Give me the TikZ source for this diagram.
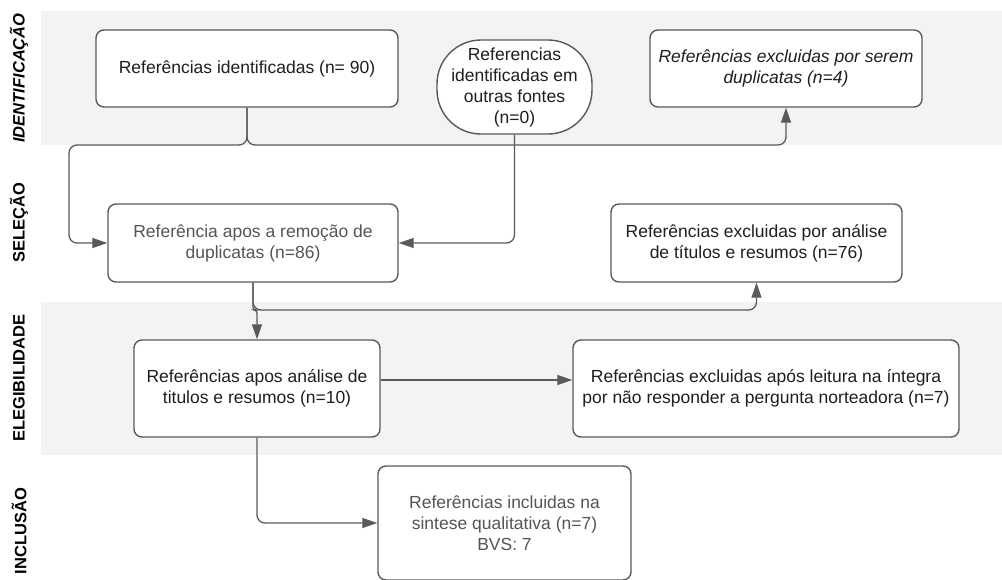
\documentclass[tikz,border=0pt]{standalone}
\usepackage{fontspec}
\setmainfont{Liberation Sans}
\usetikzlibrary{arrows.meta}
\definecolor{band}{HTML}{F2F3F5}
\definecolor{edge}{HTML}{5A5A5A}
\definecolor{textgray}{HTML}{555555}

\begin{document}
\begin{tikzpicture}[x=1pt,y=-1pt,
  box/.style={draw=edge,line width=1.4pt,fill=white,rounded corners=8pt,align=center,inner sep=0pt,font=\fontsize{17.5}{21}\selectfont,text=black!88},
  phase/.style={rotate=90,font=\fontsize{16.5}{20}\selectfont\bfseries},
  flow/.style={draw=edge,line width=1.3pt,rounded corners=8pt,-{Triangle[length=15pt,width=10pt]}}]
\useasboundingbox (0,0) rectangle (1002,579);
\fill[band] (41,11) rectangle (1002,145);
\fill[band] (41,302) rectangle (1002,455);

\node[phase,font=\fontsize{16.5}{20}\selectfont\bfseries\itshape] (p_1) at (19,78) {IDENTIFICAÇÃO};
\node[phase] (p_2) at (19,223) {SELEÇÃO};
\node[phase] (p_3) at (19,378) {ELEGIBILIDADE};
\node[phase] (p_4) at (19,531) {INCLUSÃO};

\node[box,minimum width=302pt,minimum height=77pt] (b_1) at (247,68.5) {Referências identificadas (n= 90)};
\node[box,rounded corners=44pt,minimum width=155pt,minimum height=94pt] (b_2) at (514.5,87) {Referencias\\identificadas em\\outras fontes\\(n=0)};
\node[box,font=\fontsize{17.5}{21}\selectfont\itshape,minimum width=272pt,minimum height=77pt] (b_3) at (786,68.5) {Referências excluidas por serem\\duplicatas (n=4)};
\node[box,text=textgray,minimum width=290pt,minimum height=78pt] (b_4) at (253,243) {Referência apos a remoção de\\duplicatas (n=86)};
\node[box,minimum width=291pt,minimum height=78pt] (b_5) at (756.5,243) {Referências excluidas por análise\\de títulos e resumos (n=76)};
\node[box,minimum width=246pt,minimum height=97pt] (b_6) at (257,388.5) {Referências apos análise de\\titulos e resumos (n=10)};
\node[box,minimum width=386pt,minimum height=97pt] (b_7) at (766,388.5) {Referências excluidas após leitura na íntegra\\por não responder a pergunta norteadora (n=7)};
\node[box,text=textgray,minimum width=253pt,minimum height=114pt] (b_8) at (504.5,523) {Referências incluidas na\\sintese qualitativa (n=7)\\BVS: 7};

\coordinate (k_1) at (69,145);
\coordinate (k_2) at (786,145);
\coordinate (k_3) at (257,310);
\coordinate (k_4) at (756.5,310);

\path[flow] (b_1.south) |- (k_1) |- (b_4.west);
\path[flow] (b_1.south) |- (k_2) -- (b_3.south);
\path[flow] (b_2.south) |- (b_4.east);
\path[flow,rounded corners=3pt] (b_4.south) |- (k_3) -- (b_6.north);
\path[flow] (b_4.south) |- (k_4) -- (b_5.south);
\path[flow] ([yshift=8.5pt]b_6.east) -- ([yshift=8.5pt]b_7.west);
\path[flow] (b_6.south) |- (b_8.west);
\end{tikzpicture}
\end{document}
